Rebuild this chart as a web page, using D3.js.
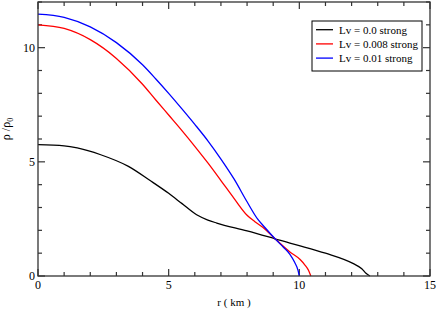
<!DOCTYPE html>
<html>
<head>
<meta charset="utf-8">
<script src="https://cdn.jsdelivr.net/npm/d3@7"></script>
<style>
  body { margin: 0; background: #fff; }
  text { font-family: "Liberation Serif", "Times New Roman", serif; }
</style>
</head>
<body>
<div id="chart"></div>
<script>
// density profiles: [r (km), rho/rho0]
const lv0 = [[0, 5.75], [1, 5.7], [1.5, 5.61], [2.4, 5.31], [3.46, 4.8], [4.29, 4.18], [5, 3.62], [5.5, 3.18],
  [6.07, 2.68], [6.5, 2.45], [6.84, 2.32], [8, 1.98], [9.07, 1.63], [9.64, 1.44], [10.03, 1.32], [11, 1.0],
  [12.07, 0.54], [12.39, 0.32], [12.55, 0.12], [12.7, 0]];
const lv008 = [[0, 11.0], [1, 10.84], [2, 10.35], [3, 9.53], [4, 8.4], [4.5, 7.72], [5, 7.05], [5.5, 6.38],
  [6, 5.68], [6.5, 4.95], [7, 4.18], [7.5, 3.4], [8, 2.66], [8.3, 2.38], [8.6, 2.13], [9.07, 1.63],
  [9.64, 1.05], [10.03, 0.72], [10.2, 0.5], [10.35, 0.25], [10.44, 0]];
const lv01 = [[0, 11.47], [1, 11.33], [2, 10.91], [3, 10.22], [4, 9.25], [4.5, 8.64], [5, 8.0], [5.5, 7.33],
  [6, 6.64], [6.5, 5.92], [7, 5.12], [7.5, 4.25], [8, 3.25], [8.4, 2.5], [8.7, 2.1], [9.07, 1.63],
  [9.4, 1.25], [9.64, 0.95], [9.82, 0.6], [9.95, 0.25], [10.0, 0]];

const seriesNames = ["Lv = 0.0 strong", "Lv = 0.008 strong", "Lv = 0.01 strong"];
const seriesColors = ["#000000", "#ff0000", "#0000ff"];
const xTicks = [0, 5, 10, 15];
const yTicks = [0, 5, 10];

const width = 436, height = 313;
const margin = { top: 2, right: 6, bottom: 37, left: 38 };

const svg = d3.select("#chart").append("svg")
  .attr("width", width)
  .attr("height", height);

const x = d3.scaleLinear().domain([0, 15]).range([margin.left, width - margin.right]);
const y = d3.scaleLinear().domain([0, 12]).range([height - margin.bottom, margin.top]);

const frameColor = "#333";

// ticks (inward, on all four sides)
const minorX = d3.range(0, 16, 1), minorY = d3.range(0, 13, 1);
function tickLen(v, step) { return v % step === 0 ? 7 : 4; }

const ticks = svg.append("g").attr("stroke", frameColor).attr("stroke-width", 1.2);
minorX.forEach(v => {
  const L = tickLen(v, 5);
  ticks.append("line").attr("x1", x(v)).attr("x2", x(v)).attr("y1", y(0)).attr("y2", y(0) - L);
  ticks.append("line").attr("x1", x(v)).attr("x2", x(v)).attr("y1", y(12)).attr("y2", y(12) + L);
});
minorY.forEach(v => {
  const L = tickLen(v, 5);
  ticks.append("line").attr("y1", y(v)).attr("y2", y(v)).attr("x1", x(0)).attr("x2", x(0) + L);
  ticks.append("line").attr("y1", y(v)).attr("y2", y(v)).attr("x1", x(15)).attr("x2", x(15) - L);
});

// tick labels
svg.append("g").selectAll("text").data(xTicks).join("text")
  .attr("x", d => x(d)).attr("y", y(0) + 13)
  .attr("text-anchor", "middle").attr("font-size", 12).attr("fill", "#000")
  .text(d => d);
svg.append("g").selectAll("text").data(yTicks).join("text")
  .attr("x", x(0) - 3).attr("y", d => y(d) + 4)
  .attr("text-anchor", "end").attr("font-size", 12).attr("fill", "#000")
  .text(d => d);

// curves
const line = d3.line().x(d => x(d[0])).y(d => y(d[1])).curve(d3.curveMonotoneX);
[lv0, lv008, lv01].forEach((s, i) => {
  svg.append("path").datum(s)
    .attr("fill", "none")
    .attr("stroke", seriesColors[i])
    .attr("stroke-width", 1.3)
    .attr("d", line);
});

// frame
svg.append("rect")
  .attr("x", x(0)).attr("y", y(12))
  .attr("width", x(15) - x(0)).attr("height", y(0) - y(12))
  .attr("fill", "none").attr("stroke", frameColor).attr("stroke-width", 1.3);

// axis titles
svg.append("text")
  .attr("x", (x(0) + x(15)) / 2).attr("y", 306)
  .attr("text-anchor", "middle").attr("font-size", 11)
  .text("r ( km )");

const yl = svg.append("text")
  .attr("transform", "translate(9.5,129) rotate(-90)")
  .attr("text-anchor", "middle").attr("font-size", 12);
yl.append("tspan").text("ρ /ρ");
yl.append("tspan").attr("font-size", 8).attr("dy", 3).text("0");

// legend
const lg = svg.append("g").attr("transform", "translate(312,21)");
lg.append("rect").attr("width", 110).attr("height", 50)
  .attr("fill", "#fff").attr("stroke", "#000").attr("stroke-width", 1);
seriesNames.forEach((name, i) => {
  const cy = 8.7 + i * 14.2;
  lg.append("line").attr("x1", 4).attr("x2", 21).attr("y1", cy).attr("y2", cy)
    .attr("stroke", seriesColors[i]).attr("stroke-width", 1.3);
  lg.append("text").attr("x", 27).attr("y", cy + 4)
    .attr("font-size", 11).text(name);
});
</script>
</body>
</html>
